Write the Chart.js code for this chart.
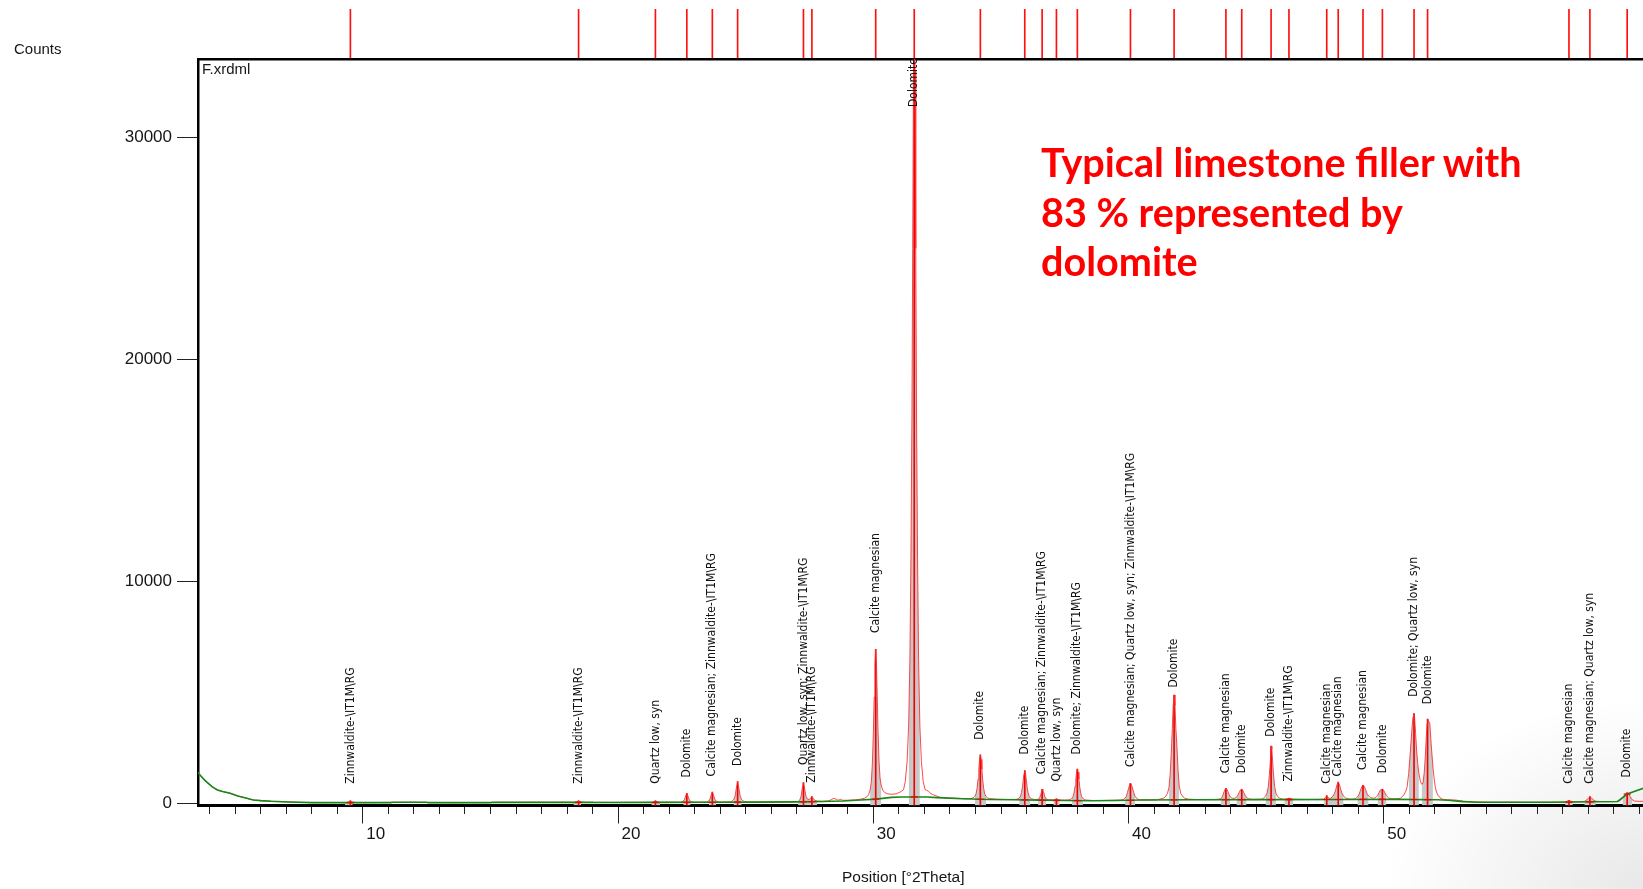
<!DOCTYPE html>
<html>
<head>
<meta charset="utf-8">
<title>F.xrdml – phase identification</title>
<script src="https://cdn.jsdelivr.net/npm/chart.js@4.4.1/dist/chart.umd.min.js"></script>
<style>
  html, body { margin: 0; padding: 0; }
  body {
    width: 1643px; height: 889px; position: relative; overflow: hidden;
    font-family: "Liberation Sans", Arial, sans-serif;
    background:
      radial-gradient(ellipse 260px 190px at 100% 100%, rgba(0,0,0,0.09), rgba(0,0,0,0) 100%),
      #ffffff;
  }
  canvas { position: absolute; left: 0; top: 0; }
  .txt { position: absolute; white-space: nowrap; color: #161616; }
  #counts { left: 14px; top: 40px; font-size: 15px; }
  #scanName { left: 202px; top: 60px; font-size: 15px; }
  #xTitle { left: 842px; top: 868px; font-size: 15.5px; }
  .note {
    position: absolute; left: 1041px; white-space: nowrap; color: #ff0000;
    font-family: Lato, "Open Sans", sans-serif; font-weight: 700; font-size: 39.6px; line-height: 50px;
  }
</style>
</head>
<body>
<canvas id="refPattern" width="1643" height="62"></canvas>
<canvas id="scan" width="1643" height="889"></canvas>

<div class="txt" id="counts">Counts</div>
<div class="txt" id="scanName">F.xrdml</div>
<div class="txt" id="xTitle">Position [°2Theta]</div>
<div class="note" style="top:137px">Typical limestone filler with</div>
<div class="note" style="top:187px">83 % represented by</div>
<div class="note" style="top:236px">dolomite</div>

<script>
// ---------------------------------------------------------------
// Scan range and axis ticks
// ---------------------------------------------------------------
const thetaMin = 3.04;
const thetaMax = 59.65;
const countsMin = -86;
const countsMax = 33525;
const countTicks = [0, 10000, 20000, 30000];

// ---------------------------------------------------------------
// Identified reflections: position [°2θ], peak counts, background
// under the peak, phase text, and the counts level where each
// phase label starts
// ---------------------------------------------------------------
const peakTheta = [9.01, 17.95, 20.96, 22.19, 23.19, 24.18, 26.76, 27.09, 29.59, 31.10,
                   33.69, 35.43, 36.11, 36.67, 37.49, 39.57, 41.28, 43.31, 43.93, 45.08,
                   45.78, 47.26, 47.71, 48.68, 49.44, 50.68, 51.21, 56.75, 57.57, 59.03];

const peakCounts = [125, 120, 125, 463, 522, 986, 941, 311, 6950, 36000,
                    2190, 1481, 643, 210, 1557, 913, 4890, 688, 643, 2593,
                    240, 356, 972, 823, 643, 4050, 3800, 150, 311, 490];

const peakBase = [45, 55, 55, 58, 60, 63, 80, 88, 200, 300,
                  195, 165, 153, 145, 135, 150, 165, 172, 175, 180,
                  181, 184, 185, 187, 189, 184, 179, 65, 80, 430];

const peakPhase = [
  "Zinnwaldite-\\IT1M\\RG",
  "Zinnwaldite-\\IT1M\\RG",
  "Quartz low, syn",
  "Dolomite",
  "Calcite magnesian; Zinnwaldite-\\IT1M\\RG",
  "Dolomite",
  "Quartz low, syn; Zinnwaldite-\\IT1M\\RG",
  "Zinnwaldite-\\IT1M\\RG",
  "Calcite magnesian",
  "Dolomite",
  "Dolomite",
  "Dolomite",
  "Calcite magnesian; Zinnwaldite-\\IT1M\\RG",
  "Quartz low, syn",
  "Dolomite; Zinnwaldite-\\IT1M\\RG",
  "Calcite magnesian; Quartz low, syn; Zinnwaldite-\\IT1M\\RG",
  "Dolomite",
  "Calcite magnesian",
  "Dolomite",
  "Dolomite",
  "Zinnwaldite-\\IT1M\\RG",
  "Calcite magnesian",
  "Calcite magnesian",
  "Calcite magnesian",
  "Dolomite",
  "Dolomite; Quartz low, syn",
  "Dolomite",
  "Calcite magnesian",
  "Calcite magnesian; Quartz low, syn",
  "Dolomite"
];

const labelCounts = [895, 895, 895, 1178, 1225, 1696, 1743, 942, 7678, 31366,
                     2873, 2214, 1319, 989, 2214, 1649, 5228, 1366, 1366, 3015,
                     989, 895, 1225, 1507, 1366, 4805, 4475, 895, 895, 1178];

// ---------------------------------------------------------------
// Measured intensity [°2θ, counts]
// ---------------------------------------------------------------
const observed = [
  [3.00,1440],[3.15,1250],[3.30,1060],[3.45,900],[3.60,760],[3.80,620],[4.00,545],[4.15,505],
  [4.30,465],[4.45,400],[4.60,345],[4.80,285],[4.95,240],[5.10,190],[5.25,160],[5.50,130],
  [5.90,105],[6.30,85],[6.60,70],[7.00,55],[7.50,45],[8.00,40],[8.50,48],[8.80,45],
  [8.92,70],[9.01,125],[9.10,70],[9.25,45],[9.60,40],[10.20,50],[10.80,55],[11.30,62],
  [11.90,55],[12.50,42],[13.10,38],[13.70,45],[14.30,40],[14.90,60],[15.50,55],[16.10,62],
  [16.70,55],[17.30,60],[17.75,55],[17.85,70],[17.95,120],[18.05,70],[18.20,50],[18.70,58],
  [19.30,50],[19.90,55],[20.50,52],[20.80,55],[20.88,70],[20.96,125],[21.04,75],[21.15,58],
  [21.50,62],[21.95,60],[22.05,110],[22.10,190],[22.14,330],[22.19,463],[22.24,330],[22.28,190],
  [22.34,100],[22.45,65],[22.70,60],[22.95,65],[23.05,115],[23.10,210],[23.14,370],[23.19,522],
  [23.24,370],[23.28,210],[23.34,110],[23.45,68],[23.70,65],[23.92,75],[24.02,170],[24.08,330],
  [24.13,700],[24.18,986],[24.23,700],[24.28,340],[24.34,170],[24.44,90],[24.60,72],[25.00,68],
  [25.50,75],[26.00,72],[26.40,80],[26.55,95],[26.62,170],[26.67,350],[26.71,680],[26.76,941],
  [26.81,650],[26.86,320],[26.92,200],[26.98,180],[27.04,250],[27.09,311],[27.14,240],[27.20,150],
  [27.30,110],[27.50,100],[27.75,120],[27.85,180],[27.95,235],[28.05,190],[28.12,150],[28.20,185],
  [28.30,150],[28.50,150],[28.80,170],[29.00,200],[29.15,240],[29.24,300],[29.31,400],[29.37,600],
  [29.42,1000],[29.46,1820],[29.50,3240],[29.53,4790],[29.56,6280],[29.59,6950],[29.62,6300],[29.65,4850],
  [29.68,3300],[29.72,1900],[29.76,1150],[29.81,800],[29.87,600],[29.94,500],[30.05,440],[30.20,420],
  [30.40,440],[30.55,520],[30.68,620],[30.75,1000],[30.82,1900],[30.88,3500],[30.93,6500],[30.97,11000],
  [31.01,17500],[31.04,25000],[31.07,33000],[31.10,36000],[31.13,33000],[31.16,25000],[31.19,17500],[31.23,11000],
  [31.27,6500],[31.32,3500],[31.38,1900],[31.45,1000],[31.52,640],[31.58,600],[31.65,560],[31.75,450],
  [31.86,390],[32.10,285],[32.40,250],[32.80,238],[33.10,220],[33.34,230],[33.41,260],[33.47,320],
  [33.52,440],[33.56,680],[33.60,1100],[33.63,1550],[33.66,1990],[33.69,2190],[33.72,1990],[33.75,1550],
  [33.78,1100],[33.82,680],[33.86,440],[33.91,320],[33.97,260],[34.04,230],[34.30,200],[34.70,185],
  [35.08,190],[35.15,210],[35.21,250],[35.26,330],[35.30,485],[35.34,760],[35.37,1060],[35.40,1350],
  [35.43,1481],[35.46,1350],[35.49,1060],[35.52,760],[35.56,485],[35.60,330],[35.65,250],[35.71,210],
  [35.80,185],[35.95,190],[36.01,260],[36.05,380],[36.08,500],[36.11,643],[36.14,560],[36.17,520],
  [36.21,330],[36.27,210],[36.35,175],[36.55,165],[36.62,185],[36.67,210],[36.72,185],[36.80,160],
  [37.00,155],[37.14,165],[37.21,185],[37.27,225],[37.32,310],[37.36,480],[37.40,780],[37.43,1100],
  [37.46,1415],[37.49,1557],[37.52,1415],[37.55,1100],[37.58,780],[37.62,480],[37.66,310],[37.71,225],
  [37.77,180],[37.84,160],[38.10,140],[38.50,140],[38.90,150],[39.20,160],[39.30,190],[39.36,240],
  [39.41,330],[39.45,490],[39.50,700],[39.54,850],[39.57,913],[39.61,850],[39.65,700],[39.70,490],
  [39.75,330],[39.81,240],[39.88,190],[39.98,165],[40.30,165],[40.60,170],[40.86,240],[40.94,310],
  [41.02,450],[41.08,730],[41.125,1300],[41.17,2290],[41.21,3380],[41.245,4420],[41.28,4890],[41.315,4420],
  [41.35,3380],[41.39,2600],[41.435,1500],[41.48,800],[41.54,460],[41.62,310],[41.70,240],[41.85,200],
  [42.10,185],[42.50,180],[42.80,180],[43.00,190],[43.10,220],[43.16,290],[43.20,410],[43.24,540],
  [43.28,650],[43.31,688],[43.35,640],[43.39,540],[43.43,420],[43.48,300],[43.56,240],[43.64,235],
  [43.72,280],[43.78,380],[43.83,500],[43.88,610],[43.93,643],[43.97,600],[44.01,500],[44.06,380],
  [44.12,270],[44.20,215],[44.35,190],[44.70,200],[44.78,240],[44.86,330],[44.92,470],[44.97,760],
  [45.01,1260],[45.045,1800],[45.08,2593],[45.11,2450],[45.14,1900],[45.18,1250],[45.22,760],[45.27,470],
  [45.33,330],[45.40,250],[45.50,210],[45.60,195],[45.70,220],[45.78,240],[45.86,225],[45.95,195],
  [46.30,185],[46.70,185],[47.00,190],[47.15,200],[47.22,280],[47.26,356],[47.30,280],[47.36,235],
  [47.42,245],[47.50,330],[47.56,450],[47.61,620],[47.66,840],[47.71,972],[47.76,850],[47.81,640],
  [47.86,460],[47.92,330],[48.00,250],[48.10,215],[48.25,200],[48.38,220],[48.46,290],[48.52,400],
  [48.57,560],[48.63,750],[48.68,823],[48.73,780],[48.78,640],[48.83,470],[48.90,340],[48.98,270],
  [49.10,240],[49.18,270],[49.25,360],[49.31,500],[49.37,620],[49.44,643],[49.49,600],[49.54,480],
  [49.60,350],[49.68,260],[49.78,220],[49.95,215],[50.05,225],[50.15,240],[50.28,390],[50.36,560],
  [50.41,760],[50.47,1350],[50.54,2410],[50.60,3400],[50.64,3900],[50.67,4050],[50.70,3900],[50.74,3200],
  [50.78,2410],[50.83,1750],[50.87,1360],[50.93,1000],[50.98,870],[51.03,920],[51.08,1400],[51.12,2100],
  [51.15,2800],[51.19,3600],[51.22,3800],[51.26,3700],[51.30,3600],[51.35,2700],[51.42,1650],[51.47,1100],
  [51.51,760],[51.56,520],[51.61,390],[51.70,260],[51.80,195],[52.00,175],[52.30,160],[52.60,110],
  [53.00,75],[53.50,62],[54.00,60],[54.50,62],[55.00,58],[55.50,60],[56.00,62],[56.40,65],
  [56.60,72],[56.68,110],[56.75,150],[56.82,110],[56.90,78],[57.10,80],[57.35,95],[57.45,170],
  [57.52,260],[57.57,311],[57.62,270],[57.70,170],[57.80,105],[58.00,92],[58.30,88],[58.60,95],
  [58.75,135],[58.85,250],[58.93,380],[58.98,460],[59.03,490],[59.08,460],[59.14,330],[59.22,180],
  [59.32,115],[59.50,100],[59.70,105]
];

// ---------------------------------------------------------------
// Fitted background [°2θ, counts]
// ---------------------------------------------------------------
const background = [
  [3.00,1430],[3.30,1055],[3.60,755],[3.80,615],[4.00,540],[4.30,462],[4.60,343],[4.95,240],
  [5.20,165],[5.50,132],[5.90,102],[6.60,70],[7.50,45],[10.60,45],[10.65,58],[12.00,58],
  [12.05,42],[14.50,42],[14.55,55],[18.50,55],[18.55,50],[21.00,55],[23.00,60],[25.00,65],
  [26.50,75],[27.50,95],[28.30,120],[29.00,160],[29.60,200],[30.20,280],[30.60,300],[31.60,300],
  [32.00,270],[33.00,215],[34.00,185],[35.00,170],[36.00,155],[37.00,140],[38.00,130],[39.00,140],
  [40.00,160],[42.00,170],[45.00,180],[48.00,185],[50.00,190],[51.60,175],[52.00,150],[52.60,90],
  [53.20,60],[56.00,58],[58.66,95],[59.03,430],[59.67,693]
];

// Half-width [°2θ] of the profile-fit window shaded under each reflection
const fitHalfWidth = 0.24;

// ---------------------------------------------------------------
const xy = arr => arr.map(([x, y]) => ({ x, y }));

// shaded profile: observed points that fall inside a fit window, gaps elsewhere
const fittedArea = observed.map(([t, c]) =>
  peakTheta.some(p => Math.abs(t - p) <= fitHalfWidth) ? { x: t, y: c } : { x: t, y: null });

const peakSticks = peakTheta.map((t, i) => ({ x: t, y: peakCounts[i] }));
const peakMarks = peakTheta.map((t, i) => ({ x: t, y: peakBase[i] }));
const refSticks = peakTheta.map(t => ({ x: t, y: 1 }));

// phase names written upward above each reflection
const phaseLabels = {
  id: 'phaseLabels',
  afterDatasetsDraw(chart) {
    const { ctx, scales: { x, y } } = chart;
    ctx.save();
    ctx.font = '12px "DejaVu Sans Condensed", "DejaVu Sans", Verdana, sans-serif';
    ctx.fillStyle = '#111111';
    ctx.textAlign = 'left';
    ctx.textBaseline = 'middle';
    peakTheta.forEach((t, i) => {
      const px = x.getPixelForValue(t);
      const py = y.getPixelForValue(labelCounts[i]);
      ctx.save();
      ctx.translate(px, py);
      ctx.rotate(-Math.PI / 2);
      ctx.fillText(peakPhase[i], 0, 0);
      ctx.restore();
    });
    ctx.restore();
  }
};

const axisFont = { family: '"Liberation Sans", Arial, sans-serif', size: 17 };

new Chart(document.getElementById('scan'), {
  type: 'line',
  data: {
    datasets: [
      {
        label: 'fit',
        data: fittedArea,
        borderWidth: 0,
        borderColor: 'rgba(0,0,0,0)',
        backgroundColor: '#c8c8c8',
        fill: 'start',
        pointRadius: 0,
        spanGaps: false,
        order: 6
      },
      {
        type: 'bar',
        label: 'peaks',
        data: peakSticks,
        backgroundColor: '#f00000',
        barThickness: 1,
        base: countsMin,
        grouped: false,
        order: 5
      },
      {
        label: 'observed',
        data: xy(observed),
        borderColor: 'rgba(255,40,40,0.85)',
        borderWidth: 1,
        pointRadius: 0,
        tension: 0,
        fill: false,
        order: 3
      },
      {
        label: 'background',
        data: xy(background),
        borderColor: '#168816',
        borderWidth: 1.6,
        pointRadius: 0,
        tension: 0,
        fill: false,
        order: 2
      },
      {
        label: 'peak base',
        data: peakMarks,
        showLine: false,
        pointStyle: 'line',
        pointRadius: 3.5,
        pointBorderColor: '#f00000',
        pointBorderWidth: 1.2,
        order: 1
      }
    ]
  },
  options: {
    responsive: false,
    devicePixelRatio: 1,
    animation: false,
    events: [],
    layout: { autoPadding: false, padding: { left: 0, right: 0, top: 0, bottom: 0 } },
    plugins: { legend: { display: false }, tooltip: { enabled: false } },
    scales: {
      x: {
        type: 'linear',
        position: 'bottom',
        min: thetaMin,
        max: thetaMax,
        offset: false,
        afterFit(s) { s.height = 889 - 805.5; },
        ticks: {
          stepSize: 1,
          includeBounds: false,
          autoSkip: false,
          maxRotation: 0,
          padding: 1,
          color: '#161616',
          font: axisFont,
          callback: v => (v % 10 === 0 ? String(v) : '')
        },
        grid: {
          drawOnChartArea: false,
          drawTicks: true,
          tickLength: 18,
          tickWidth: 1,
          tickColor: '#222222',
          tickBorderDash: ctx => (ctx.tick && ctx.tick.value % 10 === 0 ? [] : [7, 40])
        },
        border: { display: true, color: '#000000', width: 3 }
      },
      xTop: {
        type: 'linear',
        position: 'top',
        min: thetaMin,
        max: thetaMax,
        afterFit(s) { s.height = 59; },
        ticks: { display: false },
        grid: { display: false },
        border: { display: true, color: '#000000', width: 2.5 }
      },
      y: {
        type: 'linear',
        position: 'left',
        min: countsMin,
        max: countsMax,
        afterFit(s) { s.width = 198; },
        afterBuildTicks(s) { s.ticks = countTicks.map(v => ({ value: v })); },
        ticks: {
          padding: 5,
          color: '#161616',
          font: axisFont,
          callback: v => String(v)
        },
        grid: {
          drawOnChartArea: false,
          drawTicks: true,
          tickLength: 21,
          tickWidth: 1,
          tickColor: '#222222'
        },
        border: { display: true, color: '#000000', width: 2.5 }
      }
    }
  },
  plugins: [phaseLabels]
});

// reference pattern strip above the scan
new Chart(document.getElementById('refPattern'), {
  type: 'bar',
  data: {
    datasets: [{
      data: refSticks,
      backgroundColor: '#ff1010',
      barThickness: 1,
      grouped: false
    }]
  },
  options: {
    responsive: false,
    devicePixelRatio: 1,
    animation: false,
    events: [],
    layout: { autoPadding: false, padding: { left: 198, right: 0, top: 9, bottom: 3 } },
    plugins: { legend: { display: false }, tooltip: { enabled: false } },
    scales: {
      x: { type: 'linear', min: thetaMin, max: thetaMax, offset: false, display: false },
      y: { min: 0, max: 1, display: false }
    }
  }
});
</script>
</body>
</html>
